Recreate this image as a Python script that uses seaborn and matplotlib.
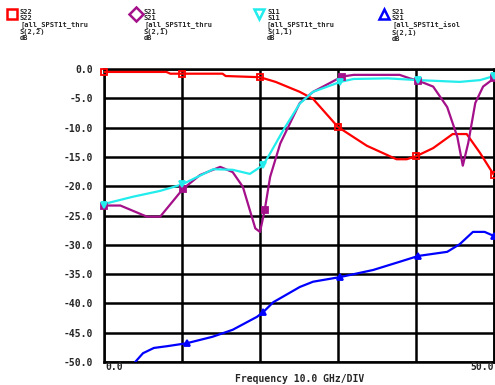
import numpy as np
import pandas as pd
import matplotlib
matplotlib.use("Agg")
import matplotlib.pyplot as plt
import seaborn as sns

# S22 of the thru path
s22_freq = [0, 8.0, 8.5, 10, 15.2, 15.6, 20, 22.0, 25.1, 26.8, 30, 33.7, 37.5, 38.8, 40, 42.2, 44.7, 46.5, 48.2, 50]
s22_db = [-0.5, -0.5, -0.8, -0.8, -0.8, -1.2, -1.4, -2.2, -3.9, -5.1, -9.9, -13.1, -15.4, -15.4, -14.9, -13.5, -11.1, -11.1, -14.3, -18.1]
s22_marks = [0, 10, 20, 30, 40, 50]

# S21 of the thru path
s21_freq = [0, 2.1, 5.5, 7.2, 10.1, 12.3, 14.9, 16.5, 17.8, 19.4, 20.0, 20.6, 21.3, 22.6, 25.1, 26.8, 30.5, 32.0,
            37.9, 39.2, 40.3, 42.2, 44.0, 45.3, 46.0, 46.7, 47.6, 48.6, 50]
s21_db = [-23.3, -23.3, -25.2, -25.2, -20.5, -18.1, -16.7, -17.6, -20.1, -27.2, -27.8, -24.1, -18.4, -12.7, -5.8,
          -3.9, -1.3, -1.0, -1.0, -1.6, -2.0, -3.0, -6.5, -11.6, -16.5, -12.6, -5.8, -3.0, -1.6]
s21_marks = [0, 10.1, 20.6, 30.5, 40.3, 50]

# S11 of the thru path
s11_freq = [0, 0.4, 3.7, 7.2, 10, 14.0, 16.5, 18.7, 20.4, 21.3, 23.0, 25.1, 26.8, 30.3, 32.0, 36.4, 40.3, 45.6, 48.2, 50]
s11_db = [-23.2, -22.9, -21.8, -20.8, -19.7, -17.1, -17.2, -17.9, -16.4, -14.4, -10.4, -5.9, -3.9, -2.2, -1.7,
          -1.6, -1.9, -2.2, -1.9, -1.2]
s11_marks = [0, 10, 20.4, 30.3, 40.3, 50]

# S21 of the isolation path
iso_freq = [3.5, 4.0, 5.0, 6.4, 8.1, 10.6, 13.9, 16.5, 19.6, 20.4, 21.7, 25.1, 26.8, 30.3, 34.5, 37.9, 40.3, 44.0,
            45.6, 47.3, 48.8, 50]
iso_db = [-50.8, -50.0, -48.5, -47.6, -47.3, -46.8, -45.7, -44.5, -42.3, -41.5, -39.8, -37.2, -36.3, -35.5, -34.3,
          -32.9, -31.9, -31.2, -29.9, -27.8, -27.8, -28.5]
iso_marks = [10.6, 20.4, 30.3, 40.3, 50]

legend_texts = [
    "S22\nS22\n[all_SPST1t_thru\nS(2,2)\ndB",
    "S21\nS21\n[all_SPST1t_thru\nS(2,1)\ndB",
    "S11\nS11\n[all_SPST1t_thru\nS(1,1)\ndB",
    "S21\nS21\n[all_SPST1t_isol\nS(2,1)\ndB",
]

y_ticks = [0, -5, -10, -15, -20, -25, -30, -35, -40, -45, -50]
x_ticks = [0, 10, 20, 30, 40, 50]

series = [
    ("S22", s22_freq, s22_db, s22_marks, "#ff0000", "s", "s"),
    ("S21", s21_freq, s21_db, s21_marks, "#a4108a", "s", "D"),
    ("S11", s11_freq, s11_db, s11_marks, "#22ecec", "v", "v"),
    ("ISO", iso_freq, iso_db, iso_marks, "#0000ff", "^", "^"),
]

frames = [pd.DataFrame({"freq": f, "db": d, "trace": name}) for name, f, d, *_ in series]
df = pd.concat(frames, ignore_index=True)
palette = {name: c for name, _, _, _, c, _, _ in series}

sns.set_theme(style="white")
plt.rcParams["font.family"] = ["DejaVu Sans Mono"]

fig = plt.figure(figsize=(4.95, 3.85), dpi=100)
ax = fig.add_axes([104 / 495, 1 - 362 / 385, 390 / 495, 293 / 385])

sns.lineplot(data=df, x="freq", y="db", hue="trace", palette=palette, sort=False,
             estimator=None, linewidth=1.6, legend=False, ax=ax, zorder=3)

for name, f, d, marks, color, mk, _ in series:
    f = np.asarray(f)
    d = np.asarray(d)
    sel = np.isin(f, marks)
    ax.plot(f[sel], d[sel], linestyle="none", marker=mk, markersize=4,
            markerfacecolor=color if name != "S22" else "none",
            markeredgecolor=color, markeredgewidth=1.3, zorder=4, clip_on=False)

ax.set_xlim(0, 50)
ax.set_ylim(-50, 0)
ax.set_xticks(x_ticks)
ax.set_yticks(y_ticks)
ax.grid(True, color="black", linewidth=1.8)
for sp in ax.spines.values():
    sp.set_color("black")
    sp.set_linewidth(1.8)
ax.set_xticklabels([])
ax.set_yticklabels([f"{v:.1f}" for v in y_ticks], fontsize=7, fontweight="bold")
ax.tick_params(axis="y", length=5, width=1.5, color="black", direction="out", pad=3)
ax.tick_params(axis="x", length=0)
ax.set_xlabel("")
ax.set_ylabel("")

# end labels of the frequency axis and the axis caption
fig.text(105 / 495, 1 - 367 / 385, f"{x_ticks[0]:.1f}", fontsize=7, fontweight="bold",
         ha="left", va="center")
fig.text(494 / 495, 1 - 367 / 385, f"{x_ticks[-1]:.1f}", fontsize=7, fontweight="bold",
         ha="right", va="center")
fig.text(300 / 495, 1 - 379 / 385, "Frequency 10.0 GHz/DIV", fontsize=7, fontweight="bold",
         ha="center", va="center")

# trace legend across the top
legend_x = [8, 132, 255, 380]
for (name, _, _, _, color, _, lmk), lx, txt in zip(series, legend_x, legend_texts):
    fig.lines.append(plt.Line2D([(lx + 4) / 495], [1 - 14 / 385], marker=lmk, markersize=7,
                                markerfacecolor="none", markeredgecolor=color, markeredgewidth=1.8,
                                linestyle="none", transform=fig.transFigure))
    fig.text((lx + 12) / 495, 1 - 9 / 385, txt, fontsize=5, fontweight="bold", ha="left", va="top",
             linespacing=1.05)

fig.savefig("out.png", dpi=100)
